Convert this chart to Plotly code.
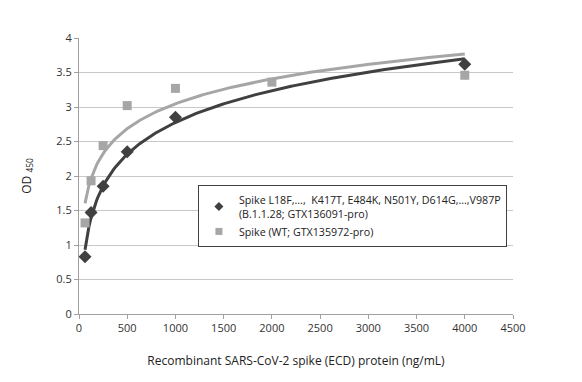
import numpy as np
import plotly.graph_objects as go

# Data
x_variant = [62.5, 125, 250, 500, 1000, 4000]
y_variant = [0.83, 1.47, 1.85, 2.35, 2.85, 3.62]
x_wt = [62.5, 125, 250, 500, 1000, 2000, 4000]
y_wt = [1.32, 1.93, 2.44, 3.02, 3.27, 3.36, 3.46]

name_variant = "Spike L18F,...,  K417T, E484K, N501Y, D614G,...,V987P<br>(B.1.1.28; GTX136091-pro)"
name_wt = "Spike (WT; GTX135972-pro)"

dark = "#404040"
gray = "#A6A6A6"


def log_fit(xs, ys):
    a, b = np.polyfit(np.log(xs), ys, 1)
    xx = np.linspace(min(xs), max(xs), 200)
    return xx, a * np.log(xx) + b


fig = go.Figure()
xv, yv = log_fit(x_variant, y_variant)
xw, yw = log_fit(x_wt, y_wt)

fig.add_trace(go.Scatter(x=xv, y=yv, mode="lines", line=dict(color=dark, width=3),
                         showlegend=False, hoverinfo="skip"))
fig.add_trace(go.Scatter(x=xw, y=yw, mode="lines", line=dict(color=gray, width=3),
                         showlegend=False, hoverinfo="skip"))
fig.add_trace(go.Scatter(x=x_variant, y=y_variant, mode="markers", showlegend=False,
                         marker=dict(symbol="diamond", color=dark, size=10)))
fig.add_trace(go.Scatter(x=x_wt, y=y_wt, mode="markers", showlegend=False,
                         marker=dict(symbol="square", color=gray, size=9)))
# legend entries (smaller symbols as in the reference)
fig.add_trace(go.Scatter(x=[None], y=[None], mode="markers", name=name_variant,
                         marker=dict(symbol="diamond", color=dark, size=7)))
fig.add_trace(go.Scatter(x=[None], y=[None], mode="markers", name=name_wt,
                         marker=dict(symbol="square", color=gray, size=7)))

font_family = "Open Sans, Liberation Sans, sans-serif"

# page body has an 8px default margin: figure is shrunk and shifted to compensate
fig.update_layout(
    width=574, height=374,
    margin=dict(l=71, r=69, t=30, b=68),
    paper_bgcolor="white", plot_bgcolor="white",
    font=dict(family=font_family, size=11, color="#333"),
    legend=dict(x=0.274, y=0.467, xanchor="left", yanchor="top",
                bgcolor="white", bordercolor="#404040", borderwidth=1,
                font=dict(size=10.7, color="#222"), tracegroupgap=0,
                itemwidth=30, itemsizing="trace"),
    xaxis=dict(range=[0, 4500], dtick=500, showgrid=False, zeroline=False,
               showline=True, linecolor="#A0A0A0", ticks="outside", ticklen=4,
               tickcolor="#A0A0A0", automargin=False,
               title=dict(text="Recombinant SARS-CoV-2 spike (ECD) protein (ng/mL)",
                          font=dict(size=12, color="#222"), standoff=22)),
    yaxis=dict(range=[0, 4], dtick=0.5, showgrid=True, gridcolor="#C8C8C8",
               zeroline=False, showline=True, linecolor="#A0A0A0",
               ticks="outside", ticklen=4, tickcolor="#A0A0A0", automargin=False,
               title=dict(text="OD <sub>450</sub>", font=dict(size=12, color="#222"),
                          standoff=22)),
)

fig.write_html("out.html")
